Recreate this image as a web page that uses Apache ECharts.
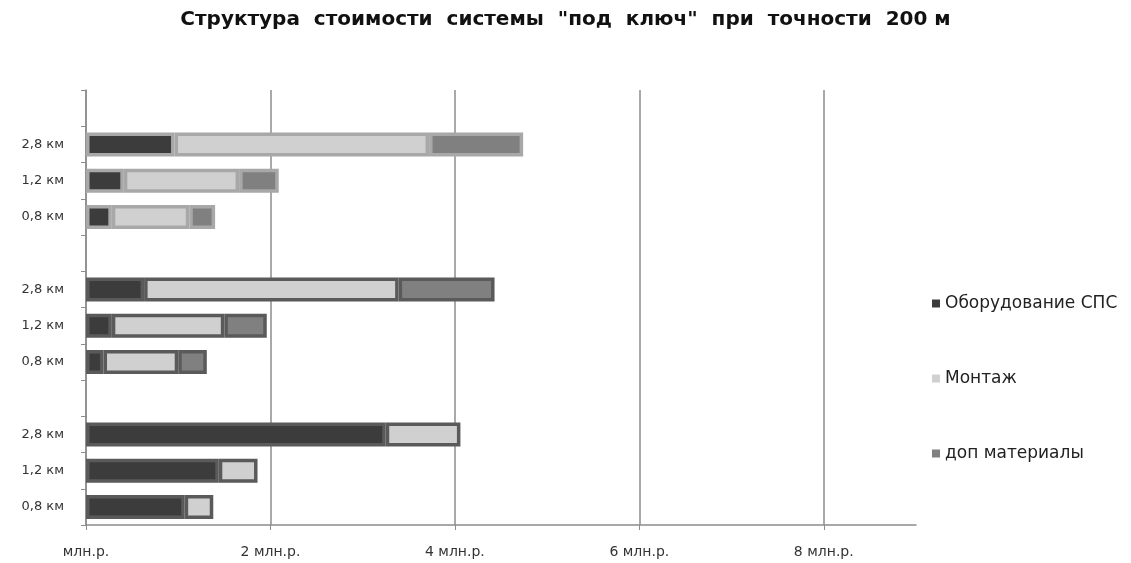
<!DOCTYPE html>
<html>
<head>
<meta charset="utf-8">
<script src="https://cdn.jsdelivr.net/npm/echarts@6/dist/echarts.min.js"></script>
<style>
  html, body { margin: 0; padding: 0; background: #fff; }
  #chart { width: 1131px; height: 563px; }
</style>
</head>
<body>
<div id="chart"></div>
<script>
// Rows from bottom to top; empty names are the spacer rows between groups.
const categories = ['0,8 км', '1,2 км', '2,8 км', '',
                    '0,8 км', '1,2 км', '2,8 км', '',
                    '0,8 км', '1,2 км', '2,8 км', ''];

// Cost components, млн.р.
const equipment    = [1.07, 1.44, 3.25, null, 0.19, 0.28, 0.63, null, 0.28, 0.41, 0.96, null];
const installation = [0.31, 0.42, 0.81, null, 0.81, 1.22, 2.76, null, 0.84, 1.25, 2.76, null];
const materials    = [null, null, null, null, 0.31, 0.46, 1.04, null, 0.28, 0.43, 1.02, null];

const seriesNames = ['Оборудование СПС', 'Монтаж', 'доп материалы'];
const xTicks = [0, 2, 4, 6, 8];

// Outline colour of each group of bars (bottom, middle, top group).
const groupOutline = ['#5a5a5a', '#5a5a5a', '#a8a8a8'];
const fills = ['#3c3c3c', '#d0d0d0', '#808080'];

function withOutline(values) {
  return values.map((v, i) => ({
    value: v,
    itemStyle: { borderColor: groupOutline[Math.floor(i / 4)], borderWidth: 3.5 }
  }));
}

const chart = echarts.init(document.getElementById('chart'));
const font = 'DejaVu Sans';

chart.setOption({
  animation: false,
  backgroundColor: '#ffffff',
  title: {
    text: 'Структура  стоимости  системы  "под  ключ"  при  точности  200 м',
    left: 'center',
    top: 5,
    textStyle: { fontFamily: font, fontWeight: 'bold', fontSize: 20, color: '#111' }
  },
  legend: {
    orient: 'vertical',
    left: 927,
    top: 290,
    itemWidth: 8,
    itemHeight: 8,
    itemGap: 58,
    icon: 'rect',
    textStyle: { fontFamily: font, fontSize: 17, color: '#222' },
    data: seriesNames
  },
  grid: { left: 86, right: 215, top: 90, bottom: 38, containLabel: false },
  xAxis: {
    type: 'value',
    min: 0,
    max: 9,
    interval: 2,
    axisLine: { show: true, lineStyle: { color: '#8c8c8c', width: 1.5 } },
    axisTick: { show: true, length: 5, customValues: xTicks, lineStyle: { color: '#8c8c8c' } },
    axisLabel: {
      customValues: xTicks,
      margin: 20,
      fontFamily: font,
      fontSize: 14,
      color: '#333',
      formatter: v => (v === 0 ? 'млн.р.' : v + ' млн.р.')
    },
    splitLine: { show: true, lineStyle: { color: '#8c8c8c', width: 1.5 } }
  },
  yAxis: {
    type: 'category',
    data: categories,
    axisLine: { show: true, lineStyle: { color: '#8c8c8c', width: 1.5 } },
    axisTick: { show: true, length: 5, interval: 0, lineStyle: { color: '#8c8c8c' } },
    axisLabel: { interval: 0, margin: 22, fontFamily: font, fontSize: 13, color: '#333' },
    splitLine: { show: false }
  },
  series: [equipment, installation, materials].map((vals, k) => ({
    name: seriesNames[k],
    type: 'bar',
    stack: 'cost',
    barWidth: 24,
    itemStyle: { color: fills[k] },
    data: withOutline(vals)
  }))
});
</script>
</body>
</html>
